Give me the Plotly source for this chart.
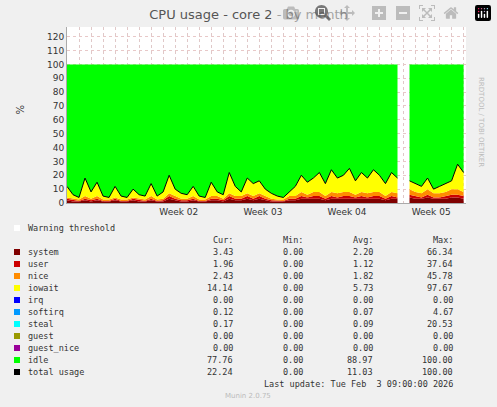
import plotly.graph_objects as go

# total usage, sampled every half day (None = gap)
total = [12, 6, 4, 18, 8, 15, 5, 4, 12, 5, 4, 10, 6, 5, 14, 5, 8, 20, 10, 7, 6, 12, 5, 4,
         15, 8, 6, 22, 12, 8, 18, 14, 16, 10, 7, 5, 4, 8, 12, 20, 15, 18, 22, 14, 24, 18,
         20, 25, 16, 22, 18, 24, 20, 14, 22, 18, None, 16, 14, 12, 18, 10, 12, 14, 16, 28, 22]
system = [2, 1, 1, 2, 1, 2, 1, 1, 2, 1, 1, 2, 1, 1, 2, 1, 1, 3, 2, 1, 1, 2, 1, 1,
          2, 2, 1, 3, 2, 2, 3, 2, 3, 2, 1, 1, 1, 2, 2, 3, 3, 3, 3, 2, 3, 3,
          3, 3, 3, 3, 3, 3, 3, 2, 3, 3, None, 4, 3, 3, 4, 3, 3, 3, 4, 4, 3]
user = [1, 1, 0.5, 1, 1, 1, 0.5, 0.5, 1, 0.5, 0.5, 1, 1, 0.5, 1, 0.5, 1, 2, 1, 1, 1, 1, 0.5, 0.5,
        1, 1, 1, 2, 1, 1, 2, 1, 2, 1, 1, 0.5, 0.5, 1, 1, 2, 1, 2, 2, 1, 2, 1,
        2, 2, 1, 2, 1, 2, 2, 1, 2, 1, None, 2, 2, 1, 2, 1, 1, 2, 2, 2, 2]
nice = [1, 1, 1, 2, 1, 2, 1, 1, 1, 1, 1, 1, 1, 1, 2, 1, 1, 2, 2, 1, 1, 2, 1, 1,
        2, 2, 1, 2, 2, 2, 2, 2, 2, 2, 1, 1, 1, 2, 2, 3, 2, 3, 3, 2, 3, 3,
        3, 3, 2, 3, 3, 3, 3, 2, 3, 3, None, 4, 3, 3, 4, 3, 3, 3, 4, 4, 3]

x = [i * 0.5 for i in range(len(total))]
iowait = [None if t is None else max(t - s - u - n, 0) for t, s, u, n in zip(total, system, user, nice)]
idle = [None if t is None else 100 - t for t in total]

names = ["system", "user", "nice", "iowait", "irq", "softirq", "steal", "guest", "guest_nice", "idle", "total usage"]
colors = ["#7f0000", "#cc0000", "#ff8c00", "#ffff00", "#0000ff", "#0099ff", "#00ffff",
          "#999900", "#990099", "#00ff00", "#000000"]
cur = ["3.43", "1.96", "2.43", "14.14", "0.00", "0.12", "0.17", "0.00", "0.00", "77.76", "22.24"]
mins = ["0.00"] * 11
avg = ["2.20", "1.12", "1.82", "5.73", "0.00", "0.07", "0.09", "0.00", "0.00", "88.97", "11.03"]
maxs = ["66.34", "37.64", "45.78", "97.67", "0.00", "4.67", "20.53", "0.00", "0.00", "100.00", "100.00"]

week_pos = [9.3, 16.3, 23.3, 30.3]
week_labels = ["Week 02", "Week 03", "Week 04", "Week 05"]

# split into segments around the gap so the stack does not drop to zero
gap = total.index(None)
segments = [(0, gap), (gap + 1, len(total))]

fig = go.Figure()
for k, (a, b) in enumerate(segments):
    for name, col, ys in [("system", colors[0], system), ("user", colors[1], user),
                          ("nice", colors[2], nice), ("iowait", colors[3], iowait),
                          ("idle", colors[9], idle)]:
        fig.add_trace(go.Scatter(x=x[a:b], y=ys[a:b], mode="lines", stackgroup="s%d" % k,
                                 fillcolor=col, line=dict(width=0), name=name))
    fig.add_trace(go.Scatter(x=x[a:b], y=total[a:b], mode="lines",
                             line=dict(color="black", width=1), name="total usage"))

W, H = 497, 407
L, R, T, B = 67, 31, 27, 204
pw, ph = W - L - R, H - T - B

def px(xp):
    return (xp - L) / pw

def py(yp):
    return (H - yp - B) / ph

font = dict(family="DejaVu Sans Mono", size=8.5, color="#333333")
ann = []
def text(xp, yp, s, anchor="left", f=font):
    ann.append(dict(x=px(xp), y=py(yp), xref="paper", yref="paper", text=s, showarrow=False,
                    xanchor=anchor, yanchor="middle", font=f))

shapes = []
def swatch(xp, yp, col):
    shapes.append(dict(type="rect", xref="paper", yref="paper", x0=px(xp - 3), x1=px(xp + 3),
                       y0=py(yp + 3), y1=py(yp - 3), fillcolor=col, line=dict(width=0)))

swatch(17, 228, "#ffffff")
text(26, 228, "Warning threshold")
text(235, 240, "Cur:", "right"); text(305, 240, "Min:", "right")
text(375, 240, "Avg:", "right"); text(455, 240, "Max:", "right")
for i, n in enumerate(names):
    yp = 252 + i * 12
    swatch(17, yp, colors[i])
    text(26, yp, n)
    text(235, yp, cur[i], "right"); text(305, yp, mins[i], "right")
    text(375, yp, avg[i], "right"); text(455, yp, maxs[i], "right")
text(455, 384, "Last update: Tue Feb  3 09:00:00 2026", "right")
text(248, 396, "Munin 2.0.75", "center", dict(family="DejaVu Sans", size=7, color="#bbbbbb"))
ann.append(dict(x=px(487), y=py(75), xref="paper", yref="paper", text="RRDTOOL / TOBI OETIKER",
                showarrow=False, textangle=90, font=dict(family="DejaVu Sans", size=7, color="#bbbbbb")))
ann.append(dict(x=px(12), y=py(110), xref="paper", yref="paper", text="%", showarrow=False,
                textangle=-90, font=dict(family="DejaVu Sans", size=10, color="#333333")))

fig.update_layout(
    width=W, height=H, margin=dict(l=L, r=R, t=T, b=B),
    paper_bgcolor="#f0f0f0", plot_bgcolor="white", showlegend=False,
    title=dict(text="CPU usage - core 2 - by month", x=0.5, y=0.975, xanchor="center",
               font=dict(family="DejaVu Sans", size=13, color="#555555")),
    xaxis=dict(range=[0, 33.2], tickvals=week_pos, ticktext=week_labels, showgrid=False,
               tickfont=dict(family="DejaVu Sans", size=9, color="#333333"), ticks="",
               showline=True, linecolor="#aaaaaa", zeroline=False,
               minor=dict(dtick=1, showgrid=True, gridcolor="#e0c8c8", griddash="dot")),
    yaxis=dict(range=[0, 127], dtick=10, showgrid=True, gridcolor="#e8c8c8", griddash="dot",
               tickfont=dict(family="DejaVu Sans", size=9, color="#333333"), ticks="",
               zeroline=False, showline=True, linecolor="#aaaaaa"),
    annotations=ann, shapes=shapes,
)
fig.write_html("out.html", post_script="document.body.style.margin='0';")
